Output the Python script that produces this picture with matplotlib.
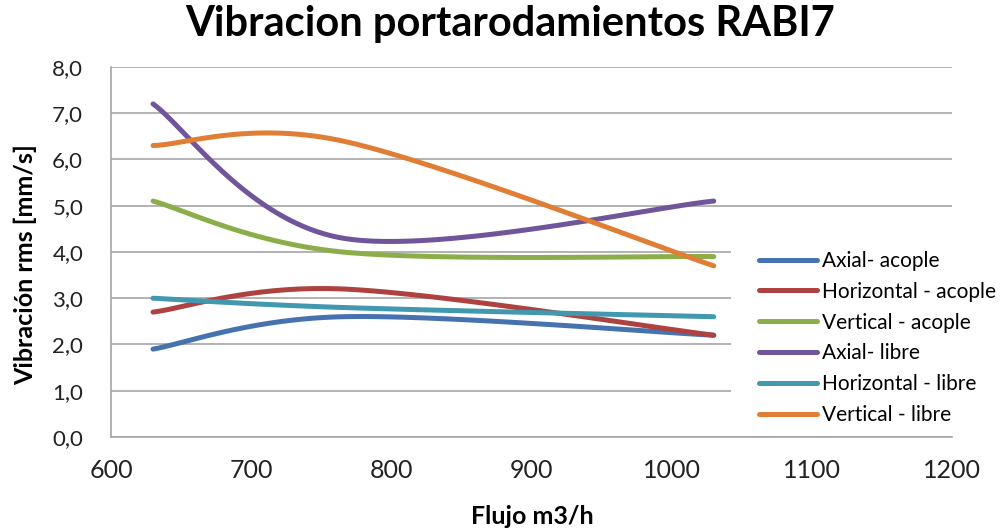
import numpy as np
import matplotlib
matplotlib.use("Agg")
import matplotlib.pyplot as plt
from matplotlib.patches import Rectangle
from matplotlib.ticker import FuncFormatter

plt.rcParams['font.family'] = ['Lato', 'DejaVu Sans']

# datos
flujo = [630, 765, 1030]
axial_acople = [1.9, 2.6, 2.2]
horizontal_acople = [2.7, 3.2, 2.2]
vertical_acople = [5.1, 4.0, 3.9]
axial_libre = [7.2, 4.3, 5.1]
horizontal_libre = [3.0, 2.8, 2.6]
vertical_libre = [6.3, 6.4, 3.7]

nombres = ["Axial- acople", "Horizontal - acople", "Vertical - acople",
           "Axial- libre", "Horizontal - libre", "Vertical - libre"]
series = [axial_acople, horizontal_acople, vertical_acople,
          axial_libre, horizontal_libre, vertical_libre]
colores = ["#4672AF", "#AE4240", "#8CAE4A", "#70559A", "#4198AF", "#E07E35"]


def suavizar(x, y, n=60):
    # curva tipo excel: bezier cubica con brazos de 1/6
    p = np.column_stack([x, y]).astype(float)
    out = []
    for i in range(len(p) - 1):
        p0 = p[i - 1] if i > 0 else p[i]
        p1 = p[i]
        p2 = p[i + 1]
        p3 = p[i + 2] if i + 2 < len(p) else p[i + 1]
        c1 = p1 + (p2 - p0) / 6.0
        c2 = p2 - (p3 - p1) / 6.0
        t = np.linspace(0, 1, n)[:, None]
        b = ((1 - t) ** 3) * p1 + 3 * ((1 - t) ** 2) * t * c1 + \
            3 * (1 - t) * t ** 2 * c2 + t ** 3 * p2
        out.append(b)
    out = np.vstack(out)
    return out[:, 0], out[:, 1]


fig = plt.figure(figsize=(10, 5.31), dpi=100)
ax = fig.add_axes([0.111, 0.177, 0.841, 0.697])

for nom, s, c in zip(nombres, series, colores):
    xs, ys = suavizar(flujo, s)
    ax.plot(xs, ys, color=c, lw=3.6, label=nom, solid_capstyle='round')

ax.set_xlim(600, 1200)
ax.set_ylim(0, 8)
ax.set_xticks(np.arange(600, 1201, 100))
ax.set_yticks(np.arange(0, 8.01, 1))
ax.yaxis.set_major_formatter(FuncFormatter(lambda v, p: ("%.1f" % v).replace(".", ",")))
ax.grid(axis='y', color='#a6a6a6', lw=1.2)
ax.set_axisbelow(True)
for s in ['top', 'right']:
    ax.spines[s].set_visible(False)
for s in ['left', 'bottom']:
    ax.spines[s].set_color('#a6a6a6')
    ax.spines[s].set_linewidth(1.2)
ax.tick_params(length=0, colors='#222222')
ax.tick_params(axis='x', labelsize=18, pad=16)
ax.tick_params(axis='y', labelsize=16, pad=20)

# fondo blanco de la leyenda tapando la rejilla
ax.add_patch(Rectangle((0.731, 0.181), 0.221, 0.399, transform=fig.transFigure,
                       facecolor='white', edgecolor='none', zorder=1.5))

fig.text(0.51, 0.955, "Vibracion portarodamientos RABI7", ha='center', va='center',
         fontsize=30, fontweight='bold')
fig.text(0.025, 0.501, "Vibración rms [mm/s]", ha='center', va='center',
         rotation=90, fontsize=18, fontweight='bold')
fig.text(0.532, 0.027, "Flujo m3/h", ha='center', va='center',
         fontsize=18, fontweight='bold')

leg = ax.legend(loc='upper left', bbox_to_anchor=(0.759, 1 - 251 / 531),
                bbox_transform=fig.transFigure, fontsize=15, frameon=False,
                handlelength=2.8, handletextpad=0.2, labelspacing=0.517,
                borderpad=0, borderaxespad=0)
for h in leg.get_lines():
    h.set_linewidth(3.6)

fig.savefig("out.png", dpi=100)
